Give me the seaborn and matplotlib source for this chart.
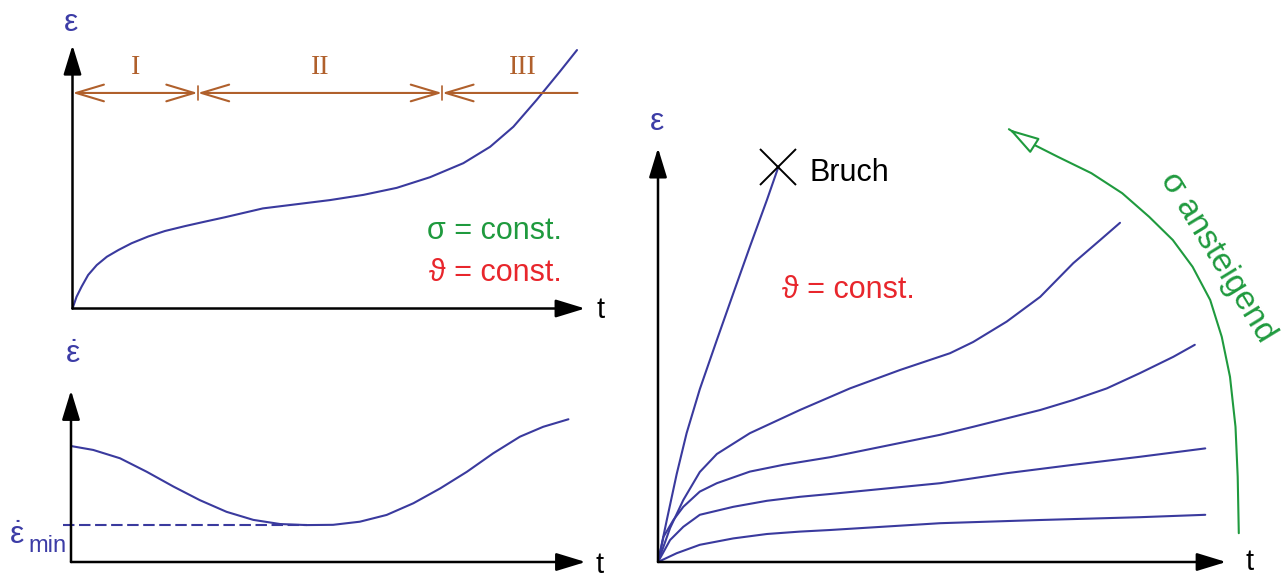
import matplotlib
matplotlib.use("Agg")
import matplotlib.pyplot as plt
import seaborn as sns

# ---------------- data ----------------
# creep curve eps(t) at constant stress and temperature
t_creep = [0, 0.08, 0.18, 0.31, 0.48, 0.68, 0.91, 1.17, 1.50, 1.83, 2.23, 2.62,
           3.02, 3.77, 5.10, 5.76, 6.42, 7.08, 7.74, 8.27, 8.73, 9.19, 9.65, 9.99]
eps_creep = [0, 0.45, 0.84, 1.29, 1.67, 1.99, 2.25, 2.51, 2.77, 2.98, 3.17, 3.34,
             3.51, 3.85, 4.17, 4.37, 4.64, 5.05, 5.59, 6.22, 6.99, 8.02, 9.11, 9.94]

# creep stages I / II / III
stage_bounds = [0, 2.48, 7.32, 10.0]
stage_labels = ["I", "II", "III"]

# creep rate deps/dt
t_rate = [0, 0.44, 0.97, 1.50, 2.03, 2.55, 3.08, 3.61, 4.14, 4.67, 5.19, 5.72,
          6.25, 6.78, 7.31, 7.84, 8.36, 8.89, 9.35, 9.85]
rate = [4.46, 4.31, 3.99, 3.47, 2.90, 2.38, 1.93, 1.62, 1.46, 1.42, 1.43, 1.55,
        1.81, 2.26, 2.83, 3.47, 4.18, 4.82, 5.20, 5.49]
rate_min = 1.42
t_rate_min = 4.67

# family of creep curves, stress increasing from the lowest to the highest
t_s1 = [0, 0.34, 0.76, 1.37, 1.98, 2.58, 3.13, 5.13, 6.95, 8.76, 9.95]
eps_s1 = [0, 0.22, 0.43, 0.59, 0.70, 0.76, 0.80, 0.97, 1.05, 1.12, 1.18]
t_s2 = [0, 0.22, 0.46, 0.76, 1.37, 1.98, 2.58, 3.13, 5.13, 6.34, 7.55, 8.76, 9.95]
eps_s2 = [0, 0.55, 0.88, 1.18, 1.38, 1.53, 1.63, 1.70, 1.97, 2.22, 2.43, 2.63, 2.84]
t_s3 = [0, 0.10, 0.28, 0.46, 0.76, 1.07, 1.67, 2.28, 3.13, 5.13, 5.73, 6.34, 6.95,
        7.55, 8.16, 8.76, 9.37, 9.76]
eps_s3 = [0, 0.63, 1.05, 1.38, 1.76, 1.97, 2.26, 2.43, 2.62, 3.18, 3.38, 3.59, 3.80,
          4.05, 4.34, 4.72, 5.13, 5.43]
t_s4 = [0, 0.22, 0.46, 0.76, 1.07, 1.67, 2.58, 3.49, 4.40, 5.31, 5.73, 6.34, 6.95,
        7.55, 8.04, 8.40]
eps_s4 = [0, 0.85, 1.55, 2.25, 2.70, 3.22, 3.80, 4.34, 4.80, 5.22, 5.50, 6.01, 6.63,
          7.47, 8.05, 8.48]
t_s5 = [0, 0.16, 0.34, 0.52, 0.76, 1.07, 1.37, 1.67, 1.98, 2.19]
eps_s5 = [0, 1.05, 2.20, 3.22, 4.32, 5.55, 6.72, 7.88, 9.05, 9.88]
family_t = [t_s1, t_s2, t_s3, t_s4, t_s5]
family_eps = [eps_s1, eps_s2, eps_s3, eps_s4, eps_s5]

# guide arrow "sigma increasing"
t_guide = [10.56, 10.54, 10.50, 10.40, 10.25, 10.04, 9.72, 9.36, 8.93, 8.44, 7.88,
           7.27, 6.78, 6.38]
eps_guide = [0.72, 2.13, 3.38, 4.63, 5.63, 6.55, 7.38, 8.05, 8.63, 9.22, 9.72,
             10.13, 10.47, 10.82]

# ---------------- style ----------------
sns.set_theme(style="white")
plt.rcParams["font.family"] = ["Liberation Sans", "DejaVu Sans"]
plt.rcParams["mathtext.fontset"] = "custom"
plt.rcParams["mathtext.rm"] = "Liberation Sans"
plt.rcParams["mathtext.it"] = "Liberation Sans"

BLUE = "#3a3a9e"
LABEL_BLUE = "#3c3ca6"
GREEN = "#1f9a3e"
RED = "#e8262c"
BROWN = "#b0602c"

W, H = 1283, 581
fig = plt.figure(figsize=(W / 100, H / 100), dpi=100)
fig.patch.set_facecolor("white")


def panel(ox, oy, sx, sy, xlim, ylim):
    """Axes whose data origin sits at pixel (ox, oy) with sx/sy pixels per unit."""
    x0 = ox + xlim[0] * sx
    x1 = ox + xlim[1] * sx
    y_top = oy - ylim[1] * sy
    y_bot = oy - ylim[0] * sy
    ax = fig.add_axes([x0 / W, 1 - y_bot / H, (x1 - x0) / W, (y_bot - y_top) / H])
    ax.set_xlim(*xlim)
    ax.set_ylim(*ylim)
    ax.axis("off")
    return ax


def axis_arrows(ax, xtip, ytip):
    kw = dict(arrowstyle="-|>,head_length=1.8,head_width=0.55", mutation_scale=10,
              lw=1.8, color="black", shrinkA=0, shrinkB=0)
    ax.annotate("", xy=(xtip, 0), xytext=(0, 0), arrowprops=kw, annotation_clip=False)
    ax.annotate("", xy=(0, ytip), xytext=(0, 0), arrowprops=kw, annotation_clip=False)


line_kw = dict(color=BLUE, linewidth=1.5, sort=False, estimator=None, legend=False)

# ---------------- creep curve ----------------
axA = panel(72.5, 308.5, 50.5, 26.0, (-1.4, 10.8), (-0.5, 11.8))
axis_arrows(axA, 10.15, 10.13)
sns.lineplot(x=t_creep, y=eps_creep, ax=axA, **line_kw)

stage_y = 8.29
head_kw = dict(mutation_scale=10, lw=1.5, color=BROWN, shrinkA=0, shrinkB=0)
for i in range(3):
    a, b = stage_bounds[i], stage_bounds[i + 1]
    style = "<->" if i < 2 else "<-"
    axA.annotate("", xy=(b, stage_y), xytext=(a, stage_y), annotation_clip=False,
                 arrowprops=dict(arrowstyle=style + ",head_length=2.0,head_width=0.6",
                                 **head_kw))
    axA.text((a + b) / 2 if i < 2 else 8.92, 9.25, stage_labels[i], color=BROWN,
             family=["Liberation Serif", "DejaVu Serif"], fontsize=20,
             ha="center", va="center")
for b in stage_bounds[1:3]:
    axA.plot([b, b], [stage_y - 0.27, stage_y + 0.27], color=BROWN, lw=1.2)

axA.text(-0.03, 10.98, "ε", color=LABEL_BLUE, fontsize=23, ha="center", va="center")
axA.text(10.45, -0.05, "t", color="black", fontsize=21, ha="center", va="center")
axA.text(9.69, 2.97, "σ = const.", color=GREEN, fontsize=22, ha="right", va="center")
axA.text(9.69, 1.37, "ϑ = const.", color=RED, fontsize=22, ha="right", va="center")

# ---------------- creep rate ----------------
axB = panel(71.0, 562.0, 50.5, 26.0, (-1.4, 10.8), (-0.6, 8.5))
axis_arrows(axB, 10.19, 6.6)
sns.lineplot(x=t_rate, y=rate, ax=axB, **line_kw)
axB.plot([-0.16, t_rate_min], [rate_min, rate_min], color=BLUE, lw=1.5,
         linestyle=(0, (5.5, 2.2)), clip_on=False)
axB.text(0.04, 7.95, r"$\dot{\mathrm{ε}}$", color=LABEL_BLUE, fontsize=23,
         ha="center", va="center")
axB.text(-1.07, 1.0, r"$\dot{\mathrm{ε}}$", color=LABEL_BLUE, fontsize=23,
         ha="center", va="center")
axB.text(-0.46, 0.62, "min", color=LABEL_BLUE, fontsize=17, ha="center", va="center")
axB.text(10.47, -0.1, "t", color="black", fontsize=21, ha="center", va="center")

# ---------------- family of creep curves ----------------
axC = panel(658.0, 562.0, 55.0, 40.0, (-0.2, 11.6), (-0.3, 11.7))
axis_arrows(axC, 10.33, 10.35)
for tt, ee in zip(family_t, family_eps):
    sns.lineplot(x=tt, y=ee, ax=axC, **line_kw)

# rupture of the highest-stress specimen
axC.plot(t_s5[-1], eps_s5[-1], marker="x", ms=26, mew=1.4, color="black",
         clip_on=False)
axC.text(2.76, 9.73, "Bruch", color="black", fontsize=22, ha="left", va="center")
axC.text(2.25, 6.8, "ϑ = const.", color=RED, fontsize=22, ha="left", va="center")
axC.text(-0.02, 11.0, "ε", color=LABEL_BLUE, fontsize=23, ha="center", va="center")
axC.text(10.75, 0.0, "t", color="black", fontsize=21, ha="center", va="center")

axC.plot(t_guide, eps_guide, color=GREEN, lw=1.5, clip_on=False)
axC.annotate("", xy=(t_guide[-1], eps_guide[-1]), xytext=(t_guide[-2], eps_guide[-2]),
             annotation_clip=False, zorder=5,
             arrowprops=dict(arrowstyle="-|>,head_length=1.9,head_width=0.55",
                             mutation_scale=10, lw=1.5, ec=GREEN, fc="white",
                             shrinkA=0, shrinkB=0))
axC.text(10.18, 7.62, "σ ansteigend", color=GREEN, fontsize=24, rotation=-58.6,
         rotation_mode="anchor", ha="center", va="center")

fig.savefig("out.png", dpi=100, facecolor="white")
